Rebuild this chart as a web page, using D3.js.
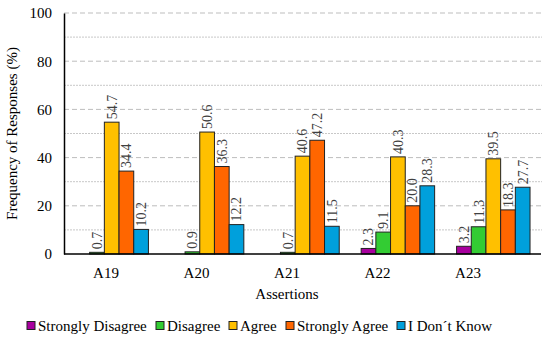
<!DOCTYPE html>
<html>
<head>
<meta charset="utf-8">
<script src="https://cdn.jsdelivr.net/npm/d3@7"></script>
<style>
  body { margin: 0; background: #fff; }
</style>
</head>
<body>
<svg class="chart" width="550" height="338"></svg>
<script>
// data
const categories = ['A19', 'A20', 'A21', 'A22', 'A23'];
const seriesNames = ['Strongly Disagree', 'Disagree', 'Agree', 'Strongly Agree', 'I Don´t Know'];
const stronglyDisagree = [null, null, null, 2.3, 3.2];
const disagree = [0.7, 0.9, 0.7, 9.1, 11.3];
const agree = [54.7, 50.6, 40.6, 40.3, 39.5];
const stronglyAgree = [34.4, 36.3, 47.2, 20.0, 18.3];
const dontKnow = [10.2, 12.2, 11.5, 28.3, 27.7];
const yTicks = [0, 20, 40, 60, 80, 100];
const yMinor = [10, 30, 50, 70, 90];

const colors = ['#A8009E', '#33CC33', '#FFC000', '#FF6600', '#00A0DC'];
const seriesValues = [stronglyDisagree, disagree, agree, stronglyAgree, dontKnow];
const FONT = '"Liberation Serif", "Times New Roman", Times, "DejaVu Serif", serif';

const svg = d3.select('.chart');
const width = +svg.attr('width');
const height = +svg.attr('height');
const margin = { top: 13, right: 9, bottom: 84, left: 64 };
const innerWidth = width - margin.left - margin.right;
const innerHeight = height - margin.top - margin.bottom;

const g = svg.append('g')
  .attr('transform', `translate(${margin.left}, ${margin.top})`);

const yScale = d3.scaleLinear().domain([0, 100]).range([innerHeight, 0]);

const xScale = d3.scaleBand()
  .domain(categories)
  .range([0, innerWidth])
  .paddingInner(0.23)
  .paddingOuter(0.115);

const xInner = d3.scaleBand()
  .domain(seriesNames)
  .range([0, xScale.bandwidth()]);

// category labels sit a bit left of the bar groups in the original
const xLabel = d3.scalePoint()
  .domain(categories)
  .range([42, 404]);

// gridlines
g.selectAll('.minor')
  .data(yMinor)
  .enter().append('line')
    .attr('x1', 0).attr('x2', innerWidth + 1)
    .attr('y1', d => yScale(d)).attr('y2', d => yScale(d))
    .attr('stroke', '#c8c8c8')
    .attr('stroke-dasharray', '2,1');

g.selectAll('.major')
  .data(yTicks.filter(d => d > 0))
  .enter().append('line')
    .attr('x1', 0).attr('x2', innerWidth + 1)
    .attr('y1', d => yScale(d)).attr('y2', d => yScale(d))
    .attr('stroke', '#bdbdbd')
    .attr('stroke-dasharray', '5,3');

// y axis
const yAxisG = g.append('g')
  .call(d3.axisLeft(yScale).tickValues(yTicks).tickSize(0).tickPadding(12));
yAxisG.select('.domain').attr('stroke', '#000').attr('stroke-width', 1.5);
yAxisG.selectAll('.tick text')
  .attr('fill', '#000')
  .style('font-size', '15px')
  .style('font-family', FONT);

// bars
const rows = [];
categories.forEach((c, i) => {
  seriesNames.forEach((s, j) => {
    rows.push({ cat: c, series: s, value: seriesValues[j][i], color: colors[j] });
  });
});
const shown = rows.filter(d => d.value !== null);

g.selectAll('rect.bar')
  .data(shown)
  .enter().append('rect')
    .attr('class', 'bar')
    .attr('x', d => xScale(d.cat) + xInner(d.series))
    .attr('y', d => yScale(d.value))
    .attr('width', xInner.bandwidth())
    .attr('height', d => innerHeight - yScale(d.value))
    .attr('fill', d => d.color)
    .attr('stroke', '#222')
    .attr('stroke-width', 1);

// value labels
g.selectAll('text.val')
  .data(shown)
  .enter().append('text')
    .attr('class', 'val')
    .attr('transform', d => {
      const x = xScale(d.cat) + xInner(d.series) + xInner.bandwidth() / 2;
      const y = yScale(d.value) - 3;
      return `translate(${x}, ${y}) rotate(-90)`;
    })
    .attr('dy', '0.35em')
    .attr('fill', '#404040')
    .style('font-size', '14px')
    .style('font-family', FONT)
    .text(d => d3.format('.1f')(d.value));

// x axis line
g.append('line')
  .attr('x1', 0).attr('x2', innerWidth)
  .attr('y1', innerHeight).attr('y2', innerHeight)
  .attr('stroke', '#000')
  .attr('stroke-width', 1.5);

// category labels
g.selectAll('text.cat')
  .data(categories)
  .enter().append('text')
    .attr('class', 'cat')
    .attr('x', d => xLabel(d))
    .attr('y', innerHeight + 24)
    .attr('text-anchor', 'middle')
    .style('font-size', '15px')
    .style('font-family', FONT)
    .text(d => d);

g.append('text')
  .attr('x', 223)
  .attr('y', innerHeight + 45)
  .attr('text-anchor', 'middle')
  .style('font-size', '15px')
  .style('font-family', FONT)
  .text('Assertions');

svg.append('text')
  .attr('transform', `translate(17, ${margin.top + innerHeight / 2}) rotate(-90)`)
  .attr('text-anchor', 'middle')
  .style('font-size', '15px')
  .style('font-family', FONT)
  .text('Frequency of Responses (%)');

// legend
const legendX = [27, 156, 229, 286, 397];
const legend = svg.append('g').attr('transform', 'translate(0, 326)');
seriesNames.forEach((s, j) => {
  const item = legend.append('g').attr('transform', `translate(${legendX[j]}, 0)`);
  item.append('rect')
    .attr('x', 0).attr('y', -4.5)
    .attr('width', 8).attr('height', 8)
    .attr('fill', colors[j])
    .attr('stroke', '#222');
  item.append('text')
    .attr('x', 11)
    .attr('dy', '0.35em')
    .style('font-size', '15px')
    .style('font-family', FONT)
    .text(s);
});
</script>
</body>
</html>
